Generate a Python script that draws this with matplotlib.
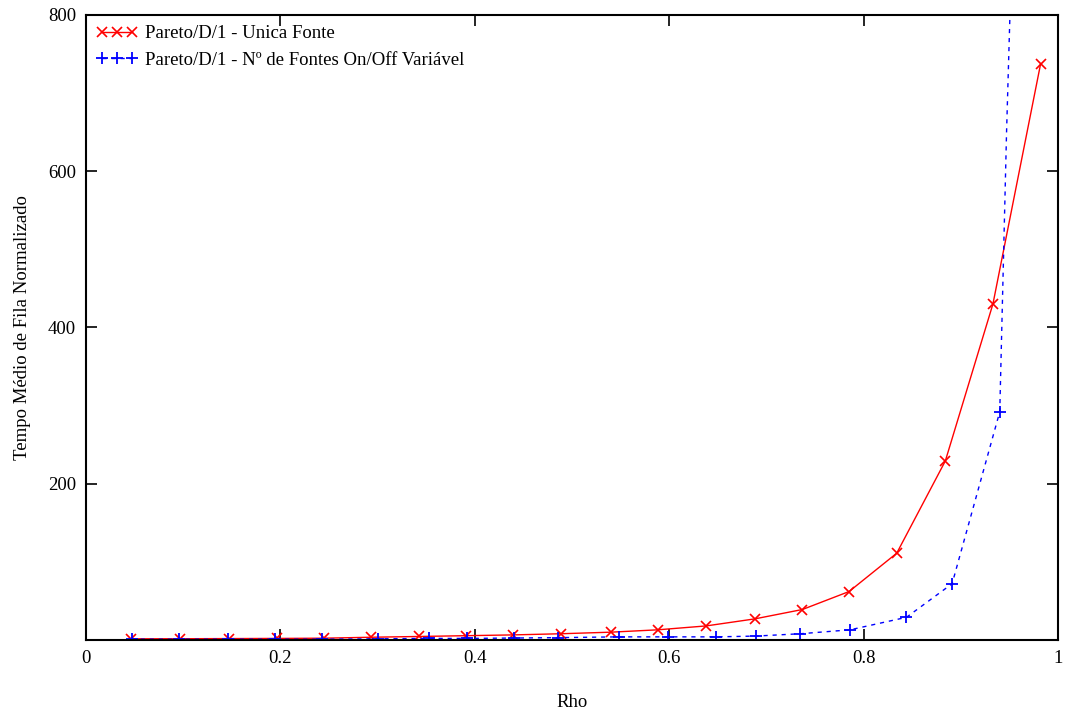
import matplotlib
matplotlib.use('Agg')
import matplotlib.pyplot as plt

plt.rcParams['font.family'] = ['Liberation Serif', 'DejaVu Serif']

# Pareto/D/1 - fonte unica
rho_unica = [0.046, 0.097, 0.147, 0.197, 0.245, 0.293, 0.343, 0.391, 0.439, 0.489,
             0.540, 0.588, 0.638, 0.688, 0.737, 0.785, 0.834, 0.884, 0.933, 0.982]
tempo_unica = [1.5, 1.6, 1.8, 2, 2.3, 3.5, 4.5, 5.5, 6.5, 8,
               10, 13, 18, 27, 39, 62, 111, 229, 430, 737]

# Pareto/D/1 - n fontes on/off variavel
rho_var = [0.047, 0.096, 0.146, 0.194, 0.243, 0.300, 0.353, 0.392, 0.440, 0.486,
           0.548, 0.599, 0.648, 0.689, 0.735, 0.786, 0.844, 0.891, 0.940, 0.947, 0.99]
tempo_var = [1, 1, 1, 1, 1, 1.5, 2, 2, 2.5, 3,
             4, 4, 4, 5, 8, 13, 29, 72, 292, 650, 2500]

xticks = [0, 0.2, 0.4, 0.6, 0.8, 1]
yticks = [200, 400, 600, 800]

fig = plt.figure(figsize=(10.73, 7.13), dpi=100)
ax = fig.add_axes([0.0801, 0.1024, 0.906, 0.877])

ax.plot(rho_unica, tempo_unica, color='red', lw=1, marker='x', ms=7, mew=1.2,
        label='Pareto/D/1 - Unica Fonte')
ax.plot(rho_var, tempo_var, color='blue', lw=1, ls=(0, (3, 3.5)), marker='+', ms=8, mew=1.3,
        markevery=list(range(len(rho_var) - 2)),
        label='Pareto/D/1 - Nº de Fontes On/Off Variável')

ax.set_xlim(0, 1)
ax.set_ylim(0, 800)
ax.set_xticks(xticks)
ax.set_xticklabels([('%g' % t) for t in xticks])
ax.set_yticks(yticks)
ax.tick_params(direction='in', length=8, width=1.2, labelsize=13.5, top=True, right=True,
               pad=7)
for s in ax.spines.values():
    s.set_linewidth(1.5)

ax.set_xlabel('Rho', fontsize=13.5, labelpad=20)
ax.set_ylabel('Tempo Médio de Fila Normalizado', fontsize=13.5, labelpad=12)

ax.legend(loc='upper left', frameon=False, fontsize=13.5, handlelength=2.2, numpoints=3,
          borderaxespad=0.15, handletextpad=0.4, labelspacing=0.5)

fig.savefig('out.png', dpi=100)
